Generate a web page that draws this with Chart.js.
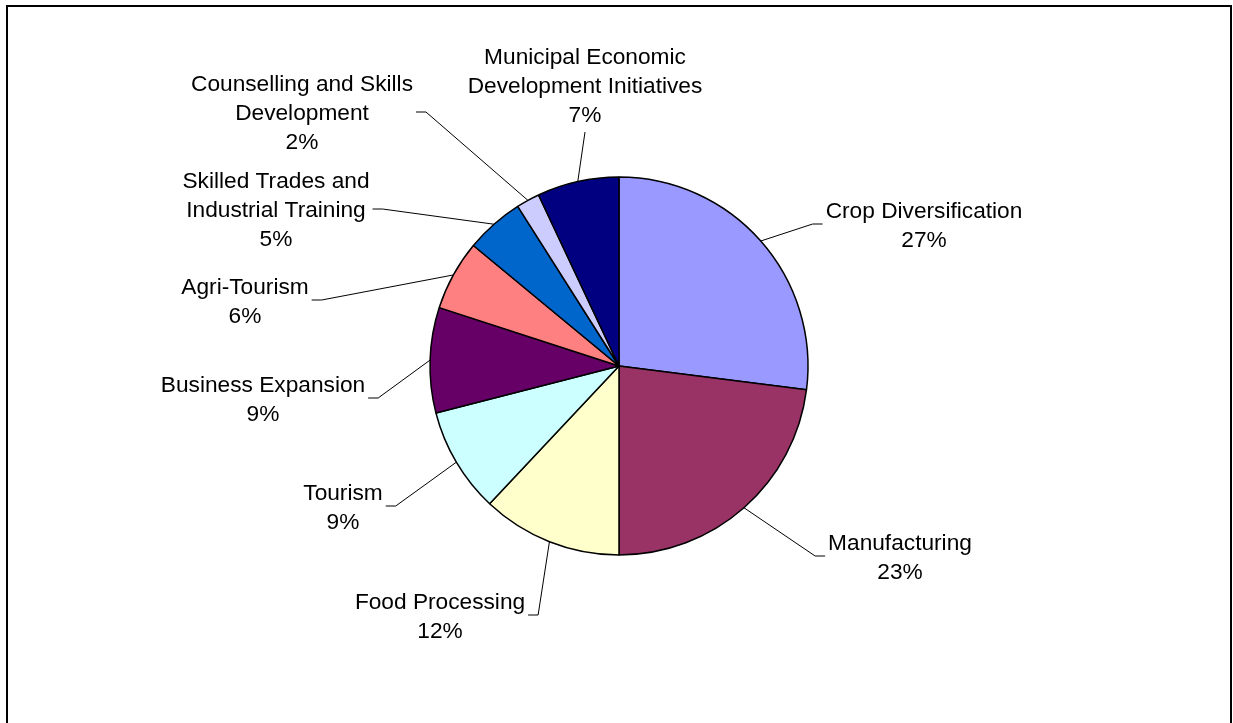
<!DOCTYPE html>
<html>
<head>
<meta charset="utf-8">
<title>Funding by program area</title>
<script src="https://cdn.jsdelivr.net/npm/chart.js@4.4.1/dist/chart.umd.min.js"></script>
<style>
html, body { margin: 0; padding: 0; overflow: hidden; background: #fff; }
#frame { position: absolute; left: 6px; top: 5px; width: 1222px; height: 800px; border: 2px solid #000; }
#wrap { position: absolute; left: 0; top: 0; width: 1233px; height: 723px; }
</style>
</head>
<body>
<div id="frame"></div>
<div id="wrap"><canvas id="pie"></canvas></div>
<script>
// program areas, clockwise from 12 o'clock
var categories = [
    ["Crop Diversification"],
    ["Manufacturing"],
    ["Food Processing"],
    ["Tourism"],
    ["Business Expansion"],
    ["Agri-Tourism"],
    ["Skilled Trades and", "Industrial Training"],
    ["Counselling and Skills", "Development"],
    ["Municipal Economic", "Development Initiatives"]
];
var shares = [27, 23, 12, 9, 9, 6, 5, 2, 7];
var sliceColors = ["#9999FF", "#993366", "#FFFFCC", "#CCFFFF", "#660066",
                   "#FF8080", "#0066CC", "#CCCCFF", "#000080"];

// where each label box sits (box centre) and which side the leader comes in from
var labelSpots = [
    {x: 924, y: 224, side: "left"},
    {x: 900, y: 556, side: "left"},
    {x: 440, y: 615, side: "right"},
    {x: 343, y: 506, side: "right"},
    {x: 263, y: 398, side: "right"},
    {x: 245, y: 300, side: "right"},
    {x: 276, y: 209, side: "right"},
    {x: 302, y: 112, side: "right"},
    {x: 585, y: 85, side: "bottom"}
];

// labels outside the pie with leader lines back to each slice
var outerLabels = {
    id: "outerLabels",
    afterDatasetsDraw: function(chart, args, opts) {
        var ctx = chart.ctx;
        var meta = chart.getDatasetMeta(0);
        var ds = chart.data.datasets[0];
        var total = ds.data.reduce(function(a, b) { return a + b; }, 0);
        var lh = opts.lineHeight;
        ctx.save();
        ctx.font = opts.font;
        ctx.fillStyle = "#000";
        ctx.strokeStyle = "#000";
        ctx.lineWidth = 1;
        meta.data.forEach(function(arc, i) {
            var p = arc.getProps(["x", "y", "startAngle", "endAngle", "outerRadius"], true);
            var mid = (p.startAngle + p.endAngle) / 2;
            var ax = p.x + Math.cos(mid) * p.outerRadius;
            var ay = p.y + Math.sin(mid) * p.outerRadius;

            var lines = chart.data.labels[i].slice();
            lines.push(Math.round(ds.data[i] / total * 100) + "%");
            var spot = opts.spots[i];
            var n = lines.length;
            var w = 0;
            lines.forEach(function(t) { w = Math.max(w, ctx.measureText(t).width); });

            // leader
            ctx.beginPath();
            ctx.moveTo(ax, ay);
            if (spot.side === "left") {
                var ex = spot.x - w / 2 - 3;
                ctx.lineTo(ex - 10, spot.y);
                ctx.lineTo(ex, spot.y);
            } else if (spot.side === "right") {
                var ex2 = spot.x + w / 2 + 3;
                ctx.lineTo(ex2 + 10, spot.y);
                ctx.lineTo(ex2, spot.y);
            } else {
                var lastBase = spot.y + ((n - 1) / 2) * lh + 8;
                ctx.lineTo(spot.x, lastBase + 10);
            }
            ctx.stroke();

            // text
            ctx.textAlign = "center";
            ctx.textBaseline = "alphabetic";
            lines.forEach(function(t, k) {
                ctx.fillText(t, spot.x, spot.y + (k - (n - 1) / 2) * lh + 8);
            });
        });
        ctx.restore();
    }
};

var chart = new Chart(document.getElementById("pie"), {
    type: "pie",
    data: {
        labels: categories,
        datasets: [{
            data: shares,
            backgroundColor: sliceColors,
            borderColor: "#000",
            borderWidth: 1.5
        }]
    },
    options: {
        responsive: true,
        maintainAspectRatio: false,
        animation: false,
        radius: 189,
        layout: { padding: { left: 205, right: 200, top: 100, bottom: 91 } },
        plugins: {
            legend: { display: false },
            tooltip: { enabled: false },
            outerLabels: {
                spots: labelSpots,
                font: "22.7px 'Liberation Sans', Arial, sans-serif",
                lineHeight: 29
            }
        }
    },
    plugins: [outerLabels]
});
</script>
</body>
</html>
